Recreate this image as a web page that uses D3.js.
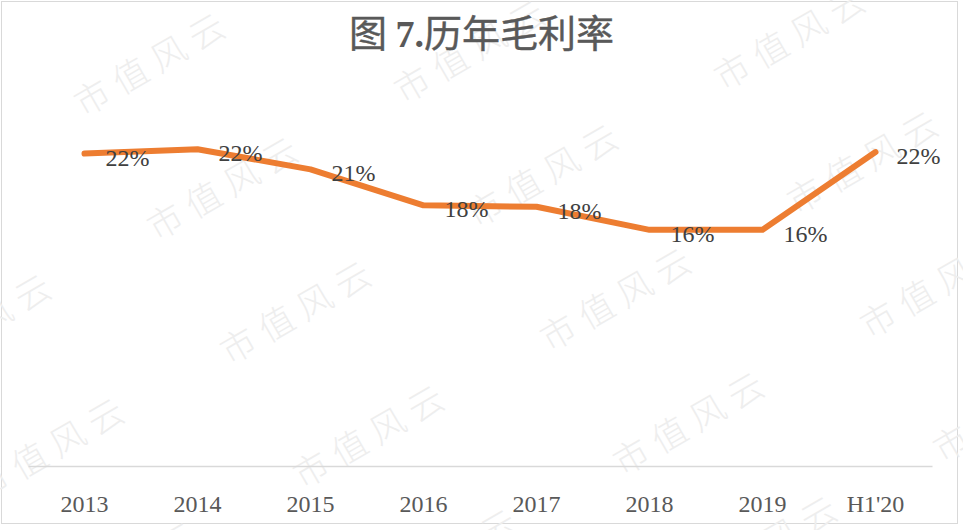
<!DOCTYPE html>
<html>
<head>
<meta charset="utf-8">
<script src="https://cdn.jsdelivr.net/npm/d3@7"></script>
<style>
  body { margin: 0; background: #fff; }
</style>
</head>
<body>
<div id="chart"></div>
<script>
// data
const years = ["2013", "2014", "2015", "2016", "2017", "2018", "2019", "H1'20"];
const grossMargin = [0.217, 0.220, 0.206, 0.181, 0.180, 0.164, 0.164, 0.218];
const titleParts = ["图 ", "7.", "历年毛利率"];

const W = 963, H = 530;
const plot = { left: 28, right: 932, top: 106, bottom: 466 };

let svg = d3.select("#chart")
    .append("svg")
    .attr("width", W)
    .attr("height", H);

svg.append("rect")
    .attr("width", W).attr("height", H)
    .attr("fill", "#fff");

// outer border
svg.append("rect")
    .attr("x", 1.5).attr("y", 1.5)
    .attr("width", 956).attr("height", 522)
    .attr("fill", "none")
    .attr("stroke", "#d9d9d9")
    .attr("stroke-width", 1);

// watermark tiles
let wm = svg.append("g");
for (let i = -2; i <= 3; i++) {
    for (let j = -1; j <= 5; j++) {
        let cx = 152 + 320 * i + 73 * j,
            cy = 60 - 13 * i + 124 * j;
        if (cx < -150 || cx > W + 150 || cy < -60 || cy > H + 60) continue;
        wm.append("text")
            .attr("transform", `translate(${cx},${cy}) rotate(-30)`)
            .attr("text-anchor", "middle")
            .attr("dominant-baseline", "central")
            .style("font-family", "'Noto Sans CJK SC'")
            .style("font-weight", 200)
            .style("font-size", "35px")
            .style("letter-spacing", "9px")
            .attr("fill", "#eeeeee")
            .text("市值风云");
    }
}

// title
let title = svg.append("text")
    .attr("x", W / 2)
    .attr("y", 47)
    .attr("text-anchor", "middle")
    .style("font-size", "38px")
    .attr("fill", "#595959");
title.append("tspan")
    .style("font-family", "'Noto Sans CJK SC'")
    .attr("stroke", "#595959").attr("stroke-width", 0.4)
    .text(titleParts[0]);
title.append("tspan")
    .style("font-family", "'Liberation Serif'")
    .style("font-weight", "bold")
    .text(titleParts[1]);
title.append("tspan")
    .style("font-family", "'Noto Sans CJK SC'")
    .attr("stroke", "#595959").attr("stroke-width", 0.4)
    .text(titleParts[2]);

// scales
let x = d3.scaleBand()
    .domain(years)
    .range([plot.left, plot.right]);

let y = d3.scaleLinear()
    .domain([0, 0.25])
    .range([plot.bottom, plot.top]);

// x axis
let xAxis = svg.append("g")
    .attr("transform", `translate(0,${plot.bottom})`)
    .call(d3.axisBottom(x).tickSize(0).tickPadding(0));
xAxis.select(".domain")
    .attr("stroke", "#d9d9d9")
    .attr("stroke-width", 1.5);
xAxis.selectAll(".tick text")
    .attr("y", 46)
    .attr("dy", 0)
    .style("font-family", "'Liberation Serif'")
    .style("font-size", "24px")
    .attr("fill", "#595959");

let pts = years.map((d, i) => [x(d) + x.bandwidth() / 2, y(grossMargin[i])]);

// line
svg.append("path")
    .datum(pts)
    .attr("fill", "none")
    .attr("stroke", "#ed7d31")
    .attr("stroke-width", 6)
    .attr("stroke-linejoin", "round")
    .attr("stroke-linecap", "round")
    .attr("d", d3.line());

// data labels
svg.append("g")
    .selectAll("text")
    .data(pts)
    .join("text")
    .attr("x", d => d[0] + 21)
    .attr("y", d => d[1] + 12)
    .style("font-family", "'Liberation Serif'")
    .style("font-size", "24px")
    .attr("fill", "#404040")
    .text((d, i) => d3.format(".0%")(grossMargin[i]));
</script>
</body>
</html>
